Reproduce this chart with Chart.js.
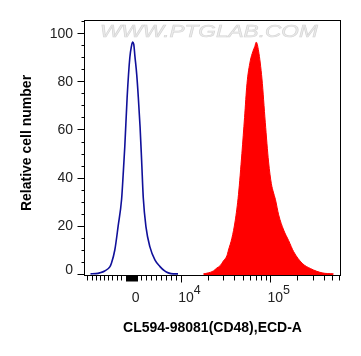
<!DOCTYPE html>
<html><head><meta charset="utf-8">
<script src="https://cdn.jsdelivr.net/npm/chart.js@4.4.1/dist/chart.umd.min.js"></script>
<style>html,body{margin:0;padding:0;background:#fff;}#wrap{width:361px;height:356px;}</style>
</head><body><div id="wrap"><canvas id="c" width="361" height="356"></canvas></div>
<script>
// Display-scale positions (decades, biexponential axis) and relative counts
const controlX = [2.99, 3.05, 3.093, 3.150, 3.206, 3.225, 3.262, 3.300, 3.338, 3.356, 3.374, 3.400, 3.430, 3.448, 3.461, 3.474, 3.487, 3.507, 3.525, 3.545, 3.563, 3.581, 3.611, 3.655, 3.711, 3.768, 3.82, 3.861, 3.917, 3.97];
const controlY = [0, 0.1, 0.4, 1.2, 2.9, 4.5, 9.9, 20, 31, 41.5, 53, 73.3, 89.8, 94.5, 96.3, 95.5, 90.5, 83, 73.5, 61, 46.5, 31.5, 19.5, 11.2, 5.8, 3.0, 1.2, 0.4, 0, 0];
const stainedX = [4.254, 4.310, 4.366, 4.404, 4.442, 4.479, 4.517, 4.535, 4.573, 4.610, 4.647, 4.685, 4.715, 4.742, 4.779, 4.809, 4.830, 4.846, 4.872, 4.910, 4.947, 4.984, 5.015, 5.037, 5.060, 5.097, 5.153, 5.209, 5.265, 5.360, 5.453, 5.584, 5.711];
const stainedY = [0, 0.4, 1.2, 2.4, 3.4, 5.4, 7.5, 9.9, 14.8, 22, 33, 50, 65, 79, 88.5, 92.5, 94.5, 96.3, 92.6, 81, 63, 46.5, 37.5, 34, 31, 24.5, 18.2, 13.8, 9.2, 4.4, 2.2, 0.4, 0];
const yTickValues = [0, 20, 40, 60, 80, 100];
const xTickValues = [3.496, 4, 5];
const xTickBase = ['0', '10', '10'];
const xTickExp = ['', '4', '5'];
const xTitle = 'CL594-98081(CD48),ECD-A';
const yTitle = 'Relative cell number';

const FONT = '"Liberation Sans", Arial, sans-serif';

const deco = {
  id: 'deco',
  beforeDatasetsDraw(chart) {
    const ctx = chart.ctx;
    ctx.save();
    ctx.translate(100, 37);
    ctx.scale(1.33, 1);
    ctx.font = 'italic 17px ' + FONT;
    ctx.textAlign = 'left';
    ctx.textBaseline = 'alphabetic';
    ctx.fillStyle = '#ececec';
    ctx.fillText('WWW.PTGLAB.COM', 0, 0);
    ctx.strokeStyle = '#d6d6d6';
    ctx.lineWidth = 0.6;
    ctx.strokeText('WWW.PTGLAB.COM', 0, 0);
    ctx.restore();
  },
  afterDraw(chart) {
    const {ctx, chartArea: a, scales: {x, y}} = chart;
    ctx.save();
    ctx.strokeStyle = '#000';
    ctx.lineWidth = 1;
    ctx.strokeRect(a.left + 0.5, a.top + 0.5, a.right - a.left - 1, a.bottom - a.top - 1);
    ctx.beginPath();
    // y ticks
    for (let v = 0; v <= 105; v += 5) {
      const py = Math.round(y.getPixelForValue(v)) + 0.5;
      const len = v % 20 === 0 ? 7 : 3;
      ctx.moveTo(a.left + 0.5 - len, py);
      ctx.lineTo(a.left + 0.5, py);
    }
    const xb = a.bottom - 0.5;
    const xt = (t, len) => {
      if (t < x.min || t > x.max) return;
      const px = Math.round(x.getPixelForValue(t)) + 0.5;
      ctx.moveTo(px, xb);
      ctx.lineTo(px, xb + len);
    };
    // negative linear region
    for (let k = 0; k < 9; k++) xt(3.328 - k * 0.0467, 5);
    // dense cluster around zero
    for (let k = 0; k <= 11; k++) xt(3.387 + k * 0.0112, 6);
    // positive linear region
    for (let k = 0; k < 8; k++) xt(3.552 + k * 0.056, 5);
    // log decades
    for (const d of [4, 5]) {
      xt(d, 7);
      for (let m = 2; m <= 9; m++) xt(d + Math.log10(m), 5);
    }
    ctx.stroke();

    // y labels
    ctx.fillStyle = '#222';
    ctx.font = '14px ' + FONT;
    ctx.textAlign = 'right';
    ctx.textBaseline = 'middle';
    yTickValues.forEach(v => {
      const py = y.getPixelForValue(v) + (v === 0 ? -3.5 : 0.5);
      ctx.fillText(String(v), 73, py);
    });
    // x labels
    xTickValues.forEach((t, i) => {
      const px = x.getPixelForValue(t);
      ctx.font = '14px ' + FONT;
      if (!xTickExp[i]) {
        ctx.textAlign = 'center';
        ctx.fillText(xTickBase[i], px, 298);
      } else {
        ctx.textAlign = 'left';
        const sx = px - 2.5;
        ctx.fillText(xTickBase[i], sx, 298);
        const w = ctx.measureText(xTickBase[i]).width;
        ctx.font = '12.5px ' + FONT;
        ctx.fillText(xTickExp[i], sx + w, 290.5);
      }
    });
    // titles
    ctx.fillStyle = '#000';
    ctx.font = 'bold 14px ' + FONT;
    ctx.textAlign = 'center';
    ctx.textBaseline = 'middle';
    ctx.fillText(xTitle, (a.left + a.right) / 2, 328);
    ctx.translate(27.5, 143);
    ctx.rotate(-Math.PI / 2);
    ctx.fillText(yTitle, 0, 0);
    ctx.restore();
  }
};

const pts = (xs, ys) => xs.map((v, i) => ({x: v, y: ys[i]}));

new Chart(document.getElementById('c'), {
  type: 'line',
  data: {
    datasets: [
      {
        label: 'Stained',
        data: pts(stainedX, stainedY),
        borderColor: '#ff0000',
        backgroundColor: '#ff0000',
        borderWidth: 1,
        fill: 'start',
        pointRadius: 0,
        cubicInterpolationMode: 'monotone'
      },
      {
        label: 'Control',
        data: pts(controlX, controlY),
        borderColor: '#10109a',
        borderWidth: 1.6,
        fill: false,
        pointRadius: 0,
        cubicInterpolationMode: 'monotone'
      }
    ]
  },
  options: {
    responsive: false,
    animation: false,
    devicePixelRatio: 1,
    layout: {padding: {top: 20, right: 20, bottom: 0, left: 0}},
    plugins: {legend: {display: false}, tooltip: {enabled: false}},
    scales: {
      x: {
        type: 'linear', min: 2.917, max: 5.795,
        ticks: {display: false},
        grid: {display: false, drawTicks: false},
        border: {display: false},
        afterFit: s => { s.height = 80; }
      },
      y: {
        type: 'linear', min: -0.9, max: 105.5,
        ticks: {display: false},
        grid: {display: false, drawTicks: false},
        border: {display: false},
        afterFit: s => { s.width = 84; }
      }
    }
  },
  plugins: [deco]
});
</script>
</body></html>
